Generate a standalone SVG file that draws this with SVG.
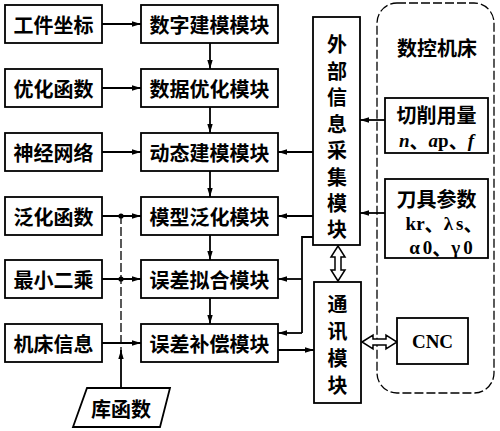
<svg xmlns="http://www.w3.org/2000/svg" width="500" height="431" viewBox="0 0 500 431">
<defs>
<style>
.box{fill:#fff;stroke:#000;stroke-width:1.8}
.t{font-family:"Noto Sans CJK SC","Noto Sans CJK JP",sans-serif;font-weight:bold;font-size:20px;fill:#000;text-anchor:middle;dominant-baseline:central}
.ln{fill:none;stroke:#000;stroke-width:1.8}
.dash{fill:none;stroke:#000;stroke-width:1.3;stroke-dasharray:9 3}
.dbl{fill:#fff;stroke:#000;stroke-width:1.5;stroke-linejoin:miter}
.sr{font-family:"Liberation Serif",serif;font-weight:bold;font-size:19px;fill:#000;text-anchor:middle;dominant-baseline:central}
.cj{font-family:"Noto Sans CJK SC",sans-serif}
</style>
<marker id="ah" viewBox="0 0 10 6" refX="10" refY="3" markerWidth="9" markerHeight="5.5" markerUnits="userSpaceOnUse" orient="auto">
<path d="M0,0 L10,3 L0,6 z" fill="#000"/>
</marker>
</defs>
<rect width="500" height="431" fill="#fff"/>

<g id="cnc-machine">
<rect x="377" y="3" width="117" height="390" rx="20" ry="20" class="dash"/>
<text x="437" y="47" class="t">数控机床</text>
</g>

<g id="connectors">
<line x1="102" y1="24" x2="141" y2="24" class="ln" marker-end="url(#ah)"/>
<line x1="102" y1="88" x2="141" y2="88" class="ln" marker-end="url(#ah)"/>
<line x1="102" y1="152" x2="141" y2="152" class="ln" marker-end="url(#ah)"/>
<line x1="102" y1="216" x2="141" y2="216" class="ln" marker-end="url(#ah)"/>
<line x1="102" y1="279" x2="141" y2="279" class="ln" marker-end="url(#ah)"/>
<line x1="102" y1="343" x2="141" y2="343" class="ln" marker-end="url(#ah)"/>
<line x1="210" y1="43" x2="210" y2="69" class="ln" marker-end="url(#ah)"/>
<line x1="210" y1="107" x2="210" y2="133" class="ln" marker-end="url(#ah)"/>
<line x1="210" y1="171" x2="210" y2="197" class="ln" marker-end="url(#ah)"/>
<line x1="210" y1="235" x2="210" y2="260" class="ln" marker-end="url(#ah)"/>
<line x1="210" y1="298" x2="210" y2="324" class="ln" marker-end="url(#ah)"/>
<line x1="121" y1="215" x2="121" y2="352" class="dash"/>
<line x1="121" y1="388" x2="121" y2="350" class="ln" marker-end="url(#ah)"/>
<circle cx="121" cy="216" r="2.6" fill="#000"/>
<circle cx="121" cy="279" r="2.6" fill="#000"/>
<line x1="313" y1="152" x2="278" y2="152" class="ln" marker-end="url(#ah)"/>
<line x1="313" y1="216" x2="278" y2="216" class="ln" marker-end="url(#ah)"/>
<polyline points="313,237 302,237 302,333" class="ln"/>
<line x1="302" y1="279" x2="278" y2="279" class="ln" marker-end="url(#ah)"/>
<line x1="302" y1="333" x2="278" y2="333" class="ln" marker-end="url(#ah)"/>
<line x1="278" y1="350" x2="314" y2="350" class="ln" marker-end="url(#ah)"/>
<line x1="385" y1="120" x2="360" y2="120" class="ln" marker-end="url(#ah)"/>
<line x1="385" y1="213" x2="360" y2="213" class="ln" marker-end="url(#ah)"/>
<polygon class="dbl" points="338,246 345,257 341,257 341,270 345,270 338,281 331,270 335,270 335,257 331,257"/>
<polygon class="dbl" points="362,342 373,335 373,339 386,339 386,335 397,342 386,349 386,345 373,345 373,349"/>
</g>

<g id="n-workpiece"><rect x="5" y="5" width="97" height="38" class="box"/><text x="53.5" y="24" class="t">工件坐标</text></g>
<g id="n-optfunc"><rect x="5" y="69" width="97" height="38" class="box"/><text x="53.5" y="88" class="t">优化函数</text></g>
<g id="n-neural"><rect x="5" y="133" width="97" height="38" class="box"/><text x="53.5" y="152" class="t">神经网络</text></g>
<g id="n-genfunc"><rect x="5" y="197" width="97" height="38" class="box"/><text x="53.5" y="216" class="t">泛化函数</text></g>
<g id="n-leastsq"><rect x="5" y="260" width="97" height="38" class="box"/><text x="53.5" y="279" class="t">最小二乘</text></g>
<g id="n-machineinfo"><rect x="5" y="324" width="97" height="38" class="box"/><text x="53.5" y="343" class="t">机床信息</text></g>

<g id="m-digital"><rect x="141" y="5" width="137" height="38" class="box"/><text x="209.5" y="24" class="t">数字建模模块</text></g>
<g id="m-dataopt"><rect x="141" y="69" width="137" height="38" class="box"/><text x="209.5" y="88" class="t">数据优化模块</text></g>
<g id="m-dynamic"><rect x="141" y="133" width="137" height="38" class="box"/><text x="209.5" y="152" class="t">动态建模模块</text></g>
<g id="m-general"><rect x="141" y="197" width="137" height="38" class="box"/><text x="209.5" y="216" class="t">模型泛化模块</text></g>
<g id="m-fit"><rect x="141" y="260" width="137" height="38" class="box"/><text x="209.5" y="279" class="t">误差拟合模块</text></g>
<g id="m-comp"><rect x="141" y="324" width="137" height="38" class="box"/><text x="209.5" y="343" class="t">误差补偿模块</text></g>

<g id="n-library"><polygon points="87,388 170,388 160,427 73,427" class="box"/><text x="121" y="408" class="t">库函数</text></g>

<g id="m-external">
<rect x="313" y="17" width="47" height="228" class="box"/>
<text class="t"><tspan x="337" y="43">外</tspan><tspan x="337" y="69.5">部</tspan><tspan x="337" y="96">信</tspan><tspan x="337" y="122.5">息</tspan><tspan x="337" y="149">采</tspan><tspan x="337" y="175.5">集</tspan><tspan x="337" y="202">模</tspan><tspan x="337" y="228">块</tspan></text>
</g>

<g id="m-comm">
<rect x="314" y="282" width="47" height="121" class="box"/>
<text class="t"><tspan x="337.5" y="303">通</tspan><tspan x="337.5" y="330">讯</tspan><tspan x="337.5" y="357">模</tspan><tspan x="337.5" y="384">块</tspan></text>
</g>

<g id="n-cutting">
<rect x="385" y="98" width="103" height="55" class="box"/>
<text x="436.5" y="114" class="t">切削用量</text>
<text x="436.5" y="140" class="sr"><tspan font-style="italic">n</tspan><tspan class="cj">、</tspan><tspan font-style="italic">a</tspan>p<tspan class="cj">、</tspan><tspan font-style="italic">f</tspan></text>
</g>

<g id="n-tool">
<rect x="385" y="179" width="103" height="79" class="box"/>
<text x="436.5" y="198" class="t">刀具参数</text>
<text x="444" y="223" class="sr">kr<tspan class="cj">、</tspan>λ<tspan dx="3">s</tspan><tspan class="cj">、</tspan></text>
<text x="441" y="247" class="sr">α<tspan dx="3">0</tspan><tspan class="cj">、</tspan>γ<tspan dx="3">0</tspan></text>
</g>

<g id="n-cnc">
<rect x="397" y="318" width="71" height="46" class="box"/>
<text x="432.5" y="341" class="sr" font-weight="normal" font-size="20">CNC</text>
</g>
</svg>
